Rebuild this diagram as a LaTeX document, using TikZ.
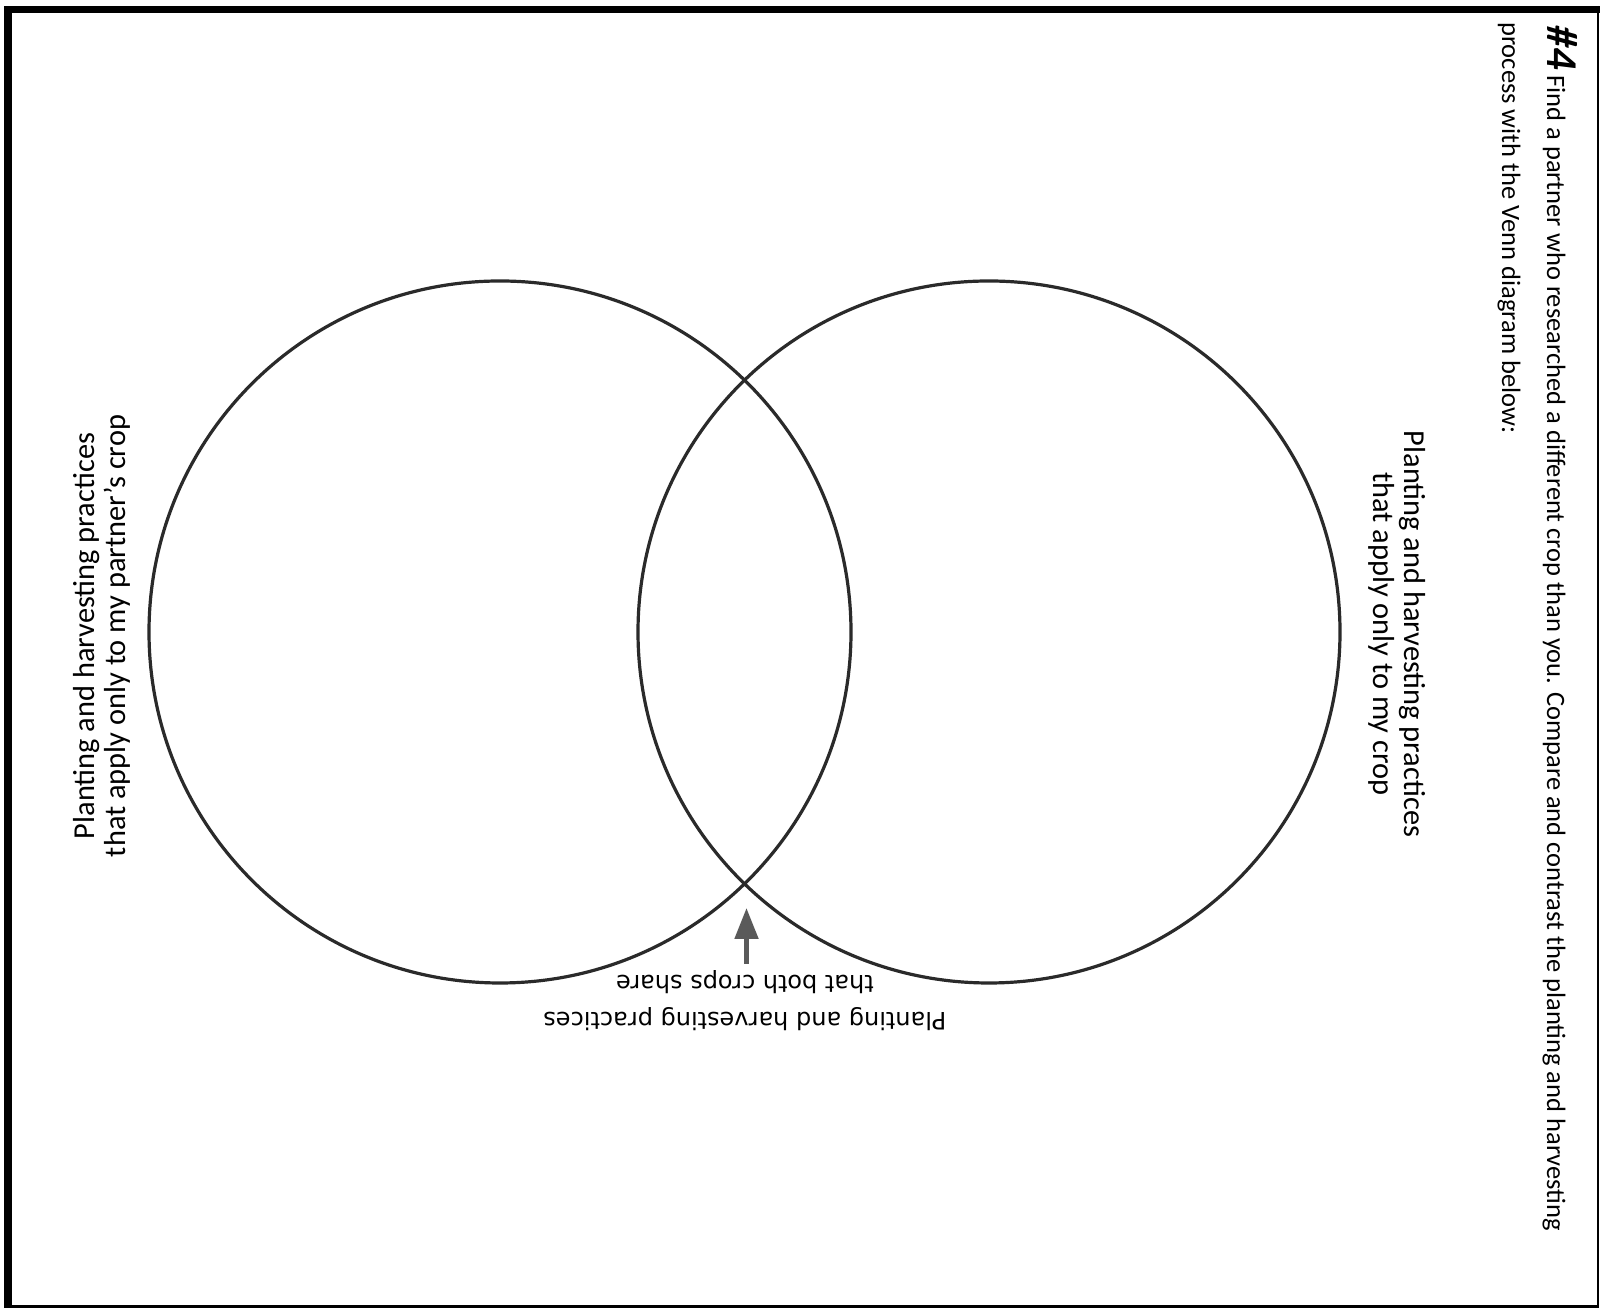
\documentclass[tikz,border=0pt]{standalone}
\usepackage{fontspec}
\setmainfont{Carlito}
\newfontfamily\verdfont{DejaVu Sans}
\usetikzlibrary{arrows.meta}
\definecolor{ringcol}{HTML}{2A2A2A}
\definecolor{arrowgray}{HTML}{5A5A5A}
\begin{document}
\begin{tikzpicture}[x=1pt,y=1pt,
  ring/.style={circle,draw=ringcol,line width=3.2pt,minimum size=702pt,inner sep=0pt},
  sidelabel/.style={align=center,font=\fontsize{30.4}{31}\selectfont,inner sep=0pt},
  bottomlabel/.style={align=center,font=\verdfont\fontsize{24}{37}\selectfont,inner sep=0pt},
  headline/.style={font=\fontsize{26.5}{30}\selectfont,inner sep=0pt}]
\useasboundingbox (0,0) rectangle (1604,1308);
\fill[white] (0,0) rectangle (1604,1308);
% frame
\fill[black] (4,0) rectangle (12,1302);
\fill[black] (4,1295) rectangle (1600,1302);
\draw[line width=2.5pt] (1598,1302) -- (1598,1.5) -- (4,1.5);
% circles
\node[ring] (leftring) at (500,676) {};
\node[ring] (rightring) at (989,676) {};
% labels
\node[sidelabel,rotate=90] (leftlabel) at (102,672) {Planting and harvesting practices\\that apply only to my partner’s crop};
\node[sidelabel,rotate=-90] (rightlabel) at (1397,674) {Planting and harvesting practices\\that apply only to my crop};
\node[bottomlabel,rotate=180] (sharedlabel) at (745,307) {Planting and harvesting practices\\that both crops share};
% arrow
\coordinate (arrowbase) at (746.5,344);
\coordinate (arrowtip) at (746.5,400);
\draw[arrowgray,line width=5pt,-{Triangle[width=23pt,length=31pt]}] (arrowbase) -- (arrowtip);
% header
\node[headline,rotate=-90,anchor=base west] (line1) at (1547,1283) {{\bfseries\itshape\fontsize{44}{44}\selectfont\#4} Find a partner who researched a different crop than you. Compare and contrast the planting and harvesting};
\node[headline,rotate=-90,anchor=base west] (line2) at (1502,1286) {process with the Venn diagram below:};
\end{tikzpicture}
\end{document}
